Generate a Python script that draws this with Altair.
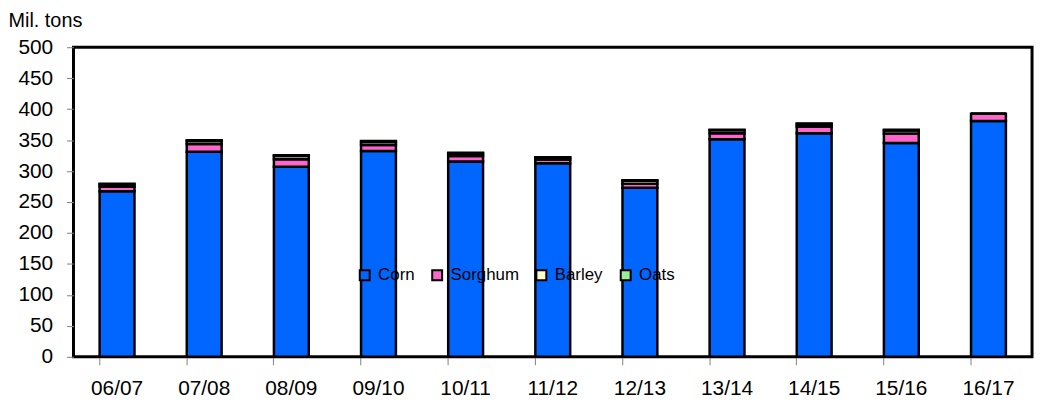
import altair as alt
import pandas as pd

years = ["06/07", "07/08", "08/09", "09/10", "10/11", "11/12", "12/13", "13/14", "14/15", "15/16", "16/17"]
corn = [267.5, 331.2, 307.1, 332.5, 315.6, 312.8, 273.2, 351.3, 361.1, 345.5, 381.0]
sorghum = [7.0, 12.6, 12.0, 9.7, 8.8, 5.4, 6.3, 9.9, 11.0, 15.2, 11.5]
barley = [3.9, 4.6, 5.2, 4.9, 3.9, 3.4, 4.8, 4.7, 3.9, 4.7, 0.0]
oats = [1.3, 1.3, 1.3, 1.3, 1.2, 0.8, 1.0, 1.0, 1.0, 1.3, 0.0]

crops = ["Corn", "Sorghum", "Barley", "Oats"]
colors = ["#0066FF", "#FF66CC", "#FFFFCC", "#99EE99"]
series = [corn, sorghum, barley, oats]
y_ticks = [0, 50, 100, 150, 200, 250, 300, 350, 400, 450, 500]

rows = []
for ci, (crop, vals) in enumerate(zip(crops, series)):
    for yr, v in zip(years, vals):
        rows.append({"year": yr, "crop": crop, "value": v, "order": ci})
df = pd.DataFrame(rows)

FONT = "Liberation Sans"

chart = alt.Chart(df).mark_bar(stroke="black", strokeWidth=2.5).encode(
    x=alt.X("year:N", sort=years, title=None,
            scale=alt.Scale(paddingInner=0.6, paddingOuter=0.3),
            axis=alt.Axis(labelAngle=0, domain=False, ticks=True, tickColor="#808080",
                          tickSize=8, bandPosition=0, labelPadding=13,
                          labelFontSize=21, labelFont=FONT, labelColor="black", grid=False)),
    y=alt.Y("value:Q", stack="zero", title="Mil. tons",
            scale=alt.Scale(domain=[0, 500], nice=False),
            axis=alt.Axis(values=y_ticks, domain=False, tickColor="#808080", tickSize=7,
                          labelPadding=14, labelFontSize=21, labelFont=FONT,
                          labelColor="black", grid=False,
                          titleAngle=0, titleAlign="left", titleBaseline="alphabetic",
                          titleX=-66, titleY=-21, titleFontSize=20, titleFont=FONT,
                          titleFontWeight="normal", titleColor="black")),
    color=alt.Color("crop:N", sort=crops,
                    scale=alt.Scale(domain=crops, range=colors),
                    legend=alt.Legend(title=None, orient="none", legendX=285, legendY=221,
                                      direction="horizontal", symbolType="square",
                                      symbolStrokeColor="black", symbolStrokeWidth=2,
                                      symbolSize=100, symbolOpacity=1, labelFontSize=17,
                                      labelFont=FONT, labelColor="black", columnPadding=13,
                                      labelOffset=5, padding=0)),
    order=alt.Order("order:Q", sort="ascending"),
).properties(
    width=966, height=312,
    autosize=alt.AutoSizeParams(type="none"),
    padding={"left": 66, "top": 38, "right": 5, "bottom": 44},
).configure_view(
    stroke="black", strokeWidth=3
)

chart.save("out.html", embed_options={"renderer": "svg", "actions": False})
